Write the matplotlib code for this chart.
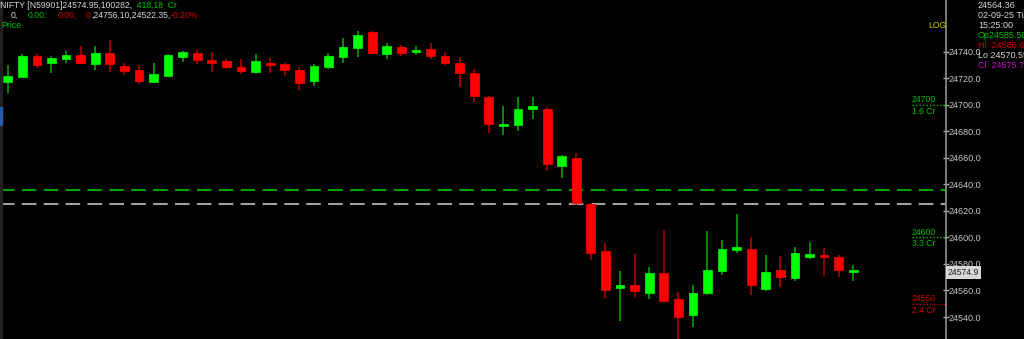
import matplotlib
matplotlib.use("Agg")
import matplotlib.pyplot as plt
from matplotlib.patches import Rectangle

# 5-min candles NIFTY 02-09-25
opens = [24717.3, 24721.3, 24736.9, 24731.4, 24734.4, 24737.5, 24730.9, 24739.4, 24729.6, 24726.6,
         24717.3, 24721.8, 24736.4, 24739.0, 24733.9, 24732.9, 24728.4, 24724.6, 24731.9, 24730.9,
         24726.4, 24718.3, 24728.9, 24735.9, 24743.0, 24755.0, 24738.4, 24743.9, 24739.7, 24742.0,
         24736.9, 24731.9, 24724.3, 24705.8, 24684.1, 24684.6, 24697.2, 24697.2, 24653.9, 24659.7,
         24625.2, 24590.0, 24561.8, 24563.9, 24558.3, 24573.4, 24553.3, 24541.7, 24558.3, 24574.4,
         24590.5, 24591.1, 24561.3, 24575.4, 24569.4, 24586.0, 24586.8, 24585.5, 24574.2]
highs = [24729.9, 24738.2, 24738.4, 24736.9, 24740.9, 24744.5, 24744.5, 24749.0, 24731.9, 24729.9,
         24731.9, 24738.4, 24740.9, 24741.5, 24739.9, 24734.4, 24734.4, 24738.4, 24735.4, 24731.9,
         24728.4, 24730.9, 24739.0, 24750.5, 24755.6, 24756.1, 24747.0, 24745.5, 24744.5, 24746.5,
         24739.9, 24735.9, 24726.9, 24706.8, 24699.2, 24705.8, 24705.8, 24698.2, 24662.4, 24664.0,
         24625.8, 24595.6, 24574.4, 24587.5, 24577.5, 24605.6, 24558.8, 24564.3, 24605.1, 24598.1,
         24617.7, 24600.1, 24586.5, 24586.0, 24592.6, 24596.6, 24592.0, 24586.65, 24579.0]
lows = [24709.3, 24720.8, 24728.1, 24723.9, 24731.4, 24730.9, 24726.4, 24724.9, 24722.4, 24715.8,
        24716.8, 24721.3, 24732.4, 24730.9, 24724.9, 24726.9, 24723.4, 24723.9, 24724.3, 24721.8,
        24711.3, 24714.3, 24726.9, 24731.9, 24736.4, 24738.4, 24734.4, 24736.9, 24737.9, 24734.4,
        24729.9, 24713.3, 24702.2, 24679.1, 24677.5, 24680.6, 24689.6, 24650.4, 24644.6, 24624.3,
        24583.0, 24554.3, 24537.2, 24554.8, 24553.8, 24552.3, 24522.4, 24532.2, 24556.8, 24571.4,
        24588.5, 24556.8, 24559.8, 24562.4, 24566.9, 24584.0, 24570.9, 24570.55, 24567.4]
closes = [24721.8, 24737.2, 24730.4, 24735.4, 24737.5, 24731.9, 24739.4, 24731.1, 24725.8, 24717.8,
          24723.4, 24737.9, 24739.9, 24733.9, 24731.9, 24728.9, 24725.4, 24733.4, 24730.1, 24726.4,
          24716.6, 24729.4, 24736.9, 24743.9, 24752.6, 24739.0, 24744.5, 24739.0, 24741.7, 24736.9,
          24731.9, 24723.9, 24706.8, 24685.6, 24685.4, 24697.2, 24699.2, 24655.4, 24661.5, 24625.8,
          24588.5, 24560.3, 24564.3, 24559.8, 24572.9, 24552.3, 24540.2, 24557.8, 24575.4, 24591.1,
          24593.0, 24563.9, 24573.9, 24569.9, 24588.0, 24587.0, 24585.5, 24575.7, 24574.95]

yticks = [24540, 24560, 24580, 24600, 24620, 24640, 24660, 24680, 24700, 24720, 24740]
green_dash = 24635.8
gray_dash = 24625.3
last_price = 24574.95
# level, label, volume, colour
levels = [(24700, "24700", "1.6 Cr", "#00c000"),
          (24600, "24600", "3.3 Cr", "#00c000"),
          (24550, "24550", "2.4 Cr", "#d00000")]

W, H = 1024, 339
FONT = "Liberation Sans"
FS = 6.2
YTOP, YBOT = 24779.2, 24523.4

fig = plt.figure(figsize=(W / 100, H / 100), dpi=100, facecolor="black")
ax = fig.add_axes([0, 0, 946 / W, 1])
ax.set_facecolor("black")


def fx(px):
    return px / W


def fy(py):
    return 1 - py / H


def price_px(p):
    return (YTOP - p) / (YTOP - YBOT) * H


for i in range(len(opens)):
    o, h, l, c = opens[i], highs[i], lows[i], closes[i]
    up = c >= o
    body_col = "#00ff00" if up else "#ff0000"
    wick_col = "#00a000" if up else "#b00000"
    ax.vlines(i, l, h, color=wick_col, lw=1.2, zorder=2)
    bot = min(o, c)
    hgt = max(abs(c - o), 1.8)
    if abs(c - o) < 1.8:
        bot = (o + c) / 2 - 0.9
    ax.bar(i, hgt, bottom=bot, width=0.6, color=body_col, edgecolor=body_col, lw=0.5, zorder=3)

ax.axhline(green_dash, color="#00a000", lw=1.5, dashes=(7, 3.5), zorder=1)
ax.axhline(gray_dash, color="#a0a0a0", lw=1.5, dashes=(7, 3.5), zorder=1)

ax.set_xlim(-0.53, 64.36)
ax.set_ylim(YBOT, YTOP)

for side in ["left", "top", "bottom"]:
    ax.spines[side].set_visible(False)
ax.spines["right"].set_color("#909090")
ax.spines["right"].set_linewidth(1.2)
ax.set_xticks([])
ax.yaxis.tick_right()
ax.set_yticks(yticks)
ax.set_yticklabels([f"{t:.1f}" for t in yticks], fontfamily=FONT, fontsize=FS + 0.3, color="#c8c8c8")
ax.tick_params(axis="y", direction="inout", length=4, width=1, color="#b0b0b0", pad=0)

# level markers near the price axis
for lv, lab, vol, col in levels:
    ax.hlines(lv, 62.0, 64.36, color=col, lw=1, linestyles=(0, (1, 1.5)), zorder=2)
    yp = price_px(lv)
    fig.text(fx(912), fy(yp - 5), lab, color=col, fontsize=FS, fontfamily=FONT, va="center", ha="left")
    fig.text(fx(912), fy(yp + 6.5), vol, color=col, fontsize=FS, fontfamily=FONT, va="center", ha="left")

# last price box
fig.text(fx(948), fy(price_px(last_price) + 2), "24574.9", color="#202020", fontsize=FS, fontfamily=FONT,
         va="center", ha="left",
         bbox=dict(boxstyle="square,pad=0.2", fc="#d8d8d8", ec="none"))

# left border strip
fig.patches.append(Rectangle((0, 0), fx(2), 1, transform=fig.transFigure, color="#202020", zorder=0.5))
fig.patches.append(Rectangle((0, fy(125)), fx(2), (125 - 107) / H, transform=fig.transFigure,
                             color="#2a5aa8", zorder=0.6))

white = "#d8d8d8"
grn = "#00c000"
red = "#d00000"
renderer = fig.canvas.get_renderer()


def text_run(x0, y, parts, fs=FS):
    # write coloured pieces one after another on a line
    x = x0
    for s, col in parts:
        t = fig.text(fx(x), fy(y), s, color=col, fontsize=fs, fontfamily=FONT, va="center", ha="left")
        bb = t.get_window_extent(renderer)
        x = bb.x1


def put(x, y, s, col, fs=FS):
    fig.text(fx(x), fy(y), s, color=col, fontsize=fs, fontfamily=FONT, va="center", ha="left")


# header top-left
text_run(0, 5, [("NIFTY [N59901]24574.95,100282,", white), ("  418.18  Cr", grn)])
put(11, 15, "0,", white)
put(28, 15, "0.00:", grn)
put(58, 15, "0.00,", red)
text_run(86, 15, [("0", red), (",24756.10,24522.35,", white), ("-0.20%", red)])
put(1, 25, "Price", grn)

put(928, 26, "LOG", "#c8c800")

# info panel top-right
info = [(5, "24564.36", white),
        (16, "02-09-25 Tu", white),
        (26, "15:25:00", white),
        (36, "Op24585.50", grn),
        (46, "Hi  24586.65", red),
        (55, "Lo 24570.55", white),
        (65, "Cl  24575.70", "#c800c8")]
for y, s, col in info:
    put(978, y, s, col, FS + 0.3)

fig.savefig("out.png", dpi=100, facecolor="black")
